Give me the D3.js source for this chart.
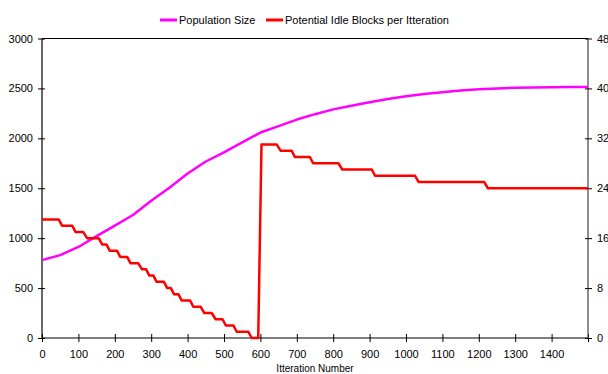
<!DOCTYPE html>
<html>
<head>
<meta charset="utf-8">
<script src="https://cdn.jsdelivr.net/npm/d3@7"></script>
<style>
  body { margin: 0; background: #fff; }
  svg { font-family: "Liberation Sans", Arial, sans-serif; }
</style>
</head>
<body>
<div id="chart"></div>
<script>
// population size, read every 50 iterations
const popIter = [0, 50, 100, 150, 200, 250, 300, 350, 400, 450, 500, 550, 600, 650, 700, 750,
  800, 850, 900, 950, 1000, 1050, 1100, 1150, 1200, 1250, 1300, 1350, 1400, 1450, 1500];
const popSize = [780, 830, 912, 1020, 1125, 1232, 1375, 1505, 1648, 1768, 1860, 1960, 2058, 2122, 2188, 2242,
  2290, 2326, 2362, 2395, 2422, 2445, 2462, 2480, 2492, 2500, 2506, 2510, 2512, 2514, 2515];

// idle blocks: corner points of the stair line
const idleIter = [0, 46, 55, 83, 92, 113, 124, 156, 165, 177, 186, 206, 215, 234, 243, 264, 275, 286,
  295, 306, 315, 335, 344, 354, 363, 375, 384, 407, 416, 436, 446, 466, 477, 496, 505, 526, 535, 567,
  576, 594, 603, 645, 656, 686, 695, 736, 745, 814, 825, 906, 915, 1025, 1035, 1215, 1225, 1500];
const idleBlocks = [19, 19, 18, 18, 17, 17, 16, 16, 15, 15, 14, 14, 13, 13, 12, 12, 11, 11,
  10, 10, 9, 9, 8, 8, 7, 7, 6, 6, 5, 5, 4, 4, 3, 3, 2, 2, 1, 1,
  0, 0, 31, 31, 30, 30, 29, 29, 28, 28, 27, 27, 26, 26, 25, 25, 24, 24];

const xTicks = d3.range(0, 1501, 100);
const leftTicks = [0, 500, 1000, 1500, 2000, 2500, 3000];
const rightTicks = [0, 8, 16, 24, 32, 40, 48];

const width = 608, height = 374;
const plot = { left: 42, right: 588, top: 38.5, bottom: 338 };

const svg = d3.select('#chart').append('svg')
  .attr('width', width)
  .attr('height', height);

const x = d3.scaleLinear().domain([0, 1500]).range([plot.left, plot.right]);
const yL = d3.scaleLinear().domain([0, 3000]).range([plot.bottom, plot.top]);
const yR = d3.scaleLinear().domain([0, 48]).range([plot.bottom, plot.top]);

// top border of plot area
svg.append('line')
  .attr('x1', plot.left).attr('x2', plot.right)
  .attr('y1', plot.top).attr('y2', plot.top)
  .attr('stroke', '#000').attr('stroke-width', 1);

// axes
const xAxis = svg.append('g')
  .attr('transform', `translate(0,${plot.bottom})`)
  .call(d3.axisBottom(x).tickValues(xTicks).tickSize(4).tickPadding(8)
    .tickFormat(d => d === 1500 ? '' : d));
xAxis.selectAll('.tick line').attr('y1', -4).attr('y2', 4);
xAxis.select('.domain').attr('d', `M${plot.left},0H${plot.right}`);

const leftAxis = svg.append('g')
  .attr('transform', `translate(${plot.left},0)`)
  .call(d3.axisLeft(yL).tickValues(leftTicks).tickSize(4).tickPadding(5).tickFormat(d3.format('d')));
leftAxis.selectAll('.tick line').attr('x1', 3).attr('x2', -4);
leftAxis.select('.domain').attr('d', `M0,${plot.bottom}V${plot.top}`);

const rightAxis = svg.append('g')
  .attr('transform', `translate(${plot.right},0)`)
  .call(d3.axisRight(yR).tickValues(rightTicks).tickSize(4).tickPadding(5));
rightAxis.selectAll('.tick line').attr('x1', -3).attr('x2', 4);
rightAxis.select('.domain').attr('d', `M0,${plot.bottom}V${plot.top}`).attr('stroke', '#444');

svg.selectAll('.domain').attr('stroke-width', 1.2);
svg.selectAll('.tick text').attr('font-size', 11).attr('fill', '#000')
  .attr('font-family', '"Liberation Sans", Arial, sans-serif');

// lines
const popLine = d3.line().x((d, i) => x(popIter[i])).y(d => yL(d));
svg.append('path')
  .datum(popSize)
  .attr('d', popLine)
  .attr('fill', 'none')
  .attr('stroke', '#ff00ff')
  .attr('stroke-width', 2.5)
  .attr('stroke-linejoin', 'round');

const idleLine = d3.line().x((d, i) => x(idleIter[i])).y(d => yR(d));
svg.append('path')
  .datum(idleBlocks)
  .attr('d', idleLine)
  .attr('fill', 'none')
  .attr('stroke', '#ff0000')
  .attr('stroke-width', 2.5)
  .attr('stroke-linejoin', 'round');

// axis title
svg.append('text')
  .attr('x', (plot.left + plot.right) / 2)
  .attr('y', 372)
  .attr('text-anchor', 'middle')
  .attr('font-size', 10)
  .text('Itteration Number');

// legend
const legend = [
  { name: 'Population Size', color: '#ff00ff', x: 160 },
  { name: 'Potential Idle Blocks per Itteration', color: '#ff0000', x: 266 }
];
const lg = svg.append('g');
legend.forEach(d => {
  lg.append('line')
    .attr('x1', d.x).attr('x2', d.x + 17)
    .attr('y1', 20).attr('y2', 20)
    .attr('stroke', d.color).attr('stroke-width', 3);
  lg.append('text')
    .attr('x', d.x + 19)
    .attr('y', 24)
    .attr('font-size', 11)
    .text(d.name);
});
</script>
</body>
</html>
